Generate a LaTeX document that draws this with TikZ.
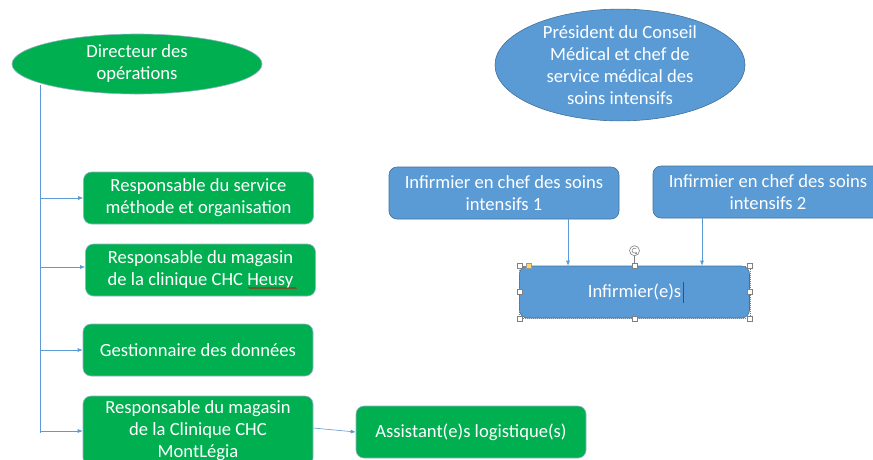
\documentclass[tikz,border=0pt]{standalone}
\usepackage{fontspec}
\setmainfont{Carlito}
\usetikzlibrary{shapes.geometric,arrows.meta,calc,decorations.pathmorphing}
\definecolor{ogreen}{HTML}{00B050}
\definecolor{oblue}{HTML}{5B9BD5}
\definecolor{oline}{HTML}{41719C}
\definecolor{conncol}{HTML}{5B9BD5}
\definecolor{hyellow}{HTML}{FFD966}
\begin{document}
\begin{tikzpicture}[x=1pt,y=-1pt,
  txt/.style={font=\fontsize{18.6}{22}\selectfont, text=white, align=center},
  gbox/.style={txt, draw=oline!55, line width=0.6pt, fill=ogreen, rounded corners=8pt, minimum width=230pt, minimum height=52pt, inner sep=0pt},
  bbox/.style={gbox, fill=oblue, draw=oline},
  gell/.style={txt, ellipse, fill=ogreen, draw=oline!55, line width=0.6pt, minimum width=250pt, minimum height=60pt, inner sep=0pt},
  bell/.style={gell, fill=oblue, draw=oline, minimum height=108pt},
  conn/.style={draw=conncol, line width=0.6pt, -{Latex[length=5pt,width=4pt]}},
  trunkline/.style={draw=conncol, line width=0.6pt},
  handle/.style={rectangle, draw=gray, fill=white, line width=0.4pt, minimum size=5pt, inner sep=0pt}
]
\useasboundingbox (0,0) rectangle (873,459);
\clip (0,0) rectangle (873,459);
\fill[white] (0,0) rectangle (873,459);

% nodes
\node[gell] (dir) at (137,64) {Directeur des\\opérations};
\node[bell] (pres) at (620,65) {Président du Conseil\\Médical et chef de\\service médical des\\soins intensifs};
\node[gbox] (b1) at (198.5,198) {Responsable du service\\méthode et organisation};
\node[gbox] (b2) at (200.5,270) {Responsable du magasin\\de la clinique CHC Heusy};
\node[gbox] (b3) at (198,350) {Gestionnaire des données};
\node[gbox, minimum height=70pt] (b4) at (198,431) {Responsable du magasin\\de la Clinique CHC\\MontLégia};
\node[gbox] (asst) at (471,432) {Assistant(e)s logistique(s)};
\node[bbox] (ic1) at (504,193) {Infirmier en chef des soins\\intensifs 1};
\node[bbox] (ic2) at (768,192) {Infirmier en chef des soins\\intensifs 2};
\node[bbox] (inf) at (634.5,292) {Infirmier(e)s};

% trunk on the left
\coordinate (trunktop) at (40,85);
\coordinate (trunkbot) at (40,433);
\draw[trunkline] (trunktop) -- (trunkbot);
\draw[conn] (b1.west -| trunkbot) -- (b1.west);
\draw[conn] ([yshift=3pt]b2.west -| trunkbot) -- ([yshift=3pt]b2.west);
\draw[conn] (b3.west -| trunkbot) -- (b3.west);
\draw[conn] (b4.west -| trunkbot) -- (b4.west);
\draw[conn] ([yshift=3pt]b4.east) -- (asst.west);

% nurses
\draw[conn] ([xshift=64pt]ic1.south) -- ([xshift=64pt]ic1.south |- inf.north);
\draw[conn] ([xshift=-66pt]ic2.south) -- ([xshift=-66pt]ic2.south |- inf.north);

% spell-check squiggle under Heusy
\draw[red!80!black, line width=0.4pt, decorate, decoration={zigzag, segment length=2pt, amplitude=0.7pt}]
  ([xshift=48pt,yshift=-18pt]b2.center) -- ([xshift=96pt,yshift=-18pt]b2.center);

% selection frame of Infirmier(e)s
\draw[gray, line width=0.4pt, dash pattern=on 1pt off 1pt] (inf.north west) rectangle (inf.south east);
\draw[gray, line width=0.4pt] (inf.north) -- ++(0,-10) coordinate (rotbase);
\node[circle, draw=gray, line width=0.6pt, minimum size=10pt, inner sep=0pt] (rot) at ([yshift=5pt]rotbase) {};
\draw[gray, line width=0.5pt, -{Latex[length=2pt,width=2pt]}] ([shift={(1.8pt,1.8pt)}]rot.center) arc[start angle=45, end angle=330, radius=2.5pt];
\node[handle] (h1) at (inf.north west) {};
\node[handle] (h2) at (inf.north) {};
\node[handle] (h3) at (inf.north east) {};
\node[handle] (h4) at (inf.east) {};
\node[handle] (h5) at (inf.south east) {};
\node[handle] (h6) at (inf.south) {};
\node[handle] (h7) at (inf.south west) {};
\node[handle] (h8) at (inf.west) {};
\node[handle, fill=hyellow, draw=gray!80] (hy) at ([xshift=9pt]inf.north west) {};
\draw[black!70, line width=0.7pt] ([xshift=49pt,yshift=10pt]inf.center) -- ([xshift=49pt,yshift=-11pt]inf.center);
\end{tikzpicture}
\end{document}
